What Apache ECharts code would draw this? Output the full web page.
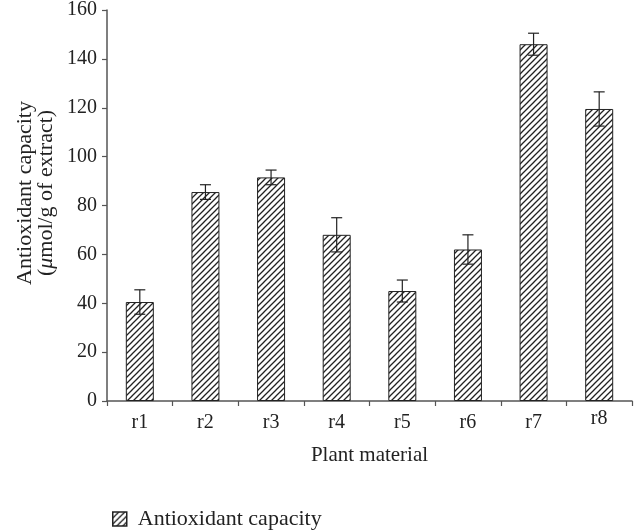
<!DOCTYPE html>
<html>
<head>
<meta charset="utf-8">
<script src="https://cdn.jsdelivr.net/npm/echarts@6/dist/echarts.min.js"></script>
<style>
  html, body { margin: 0; padding: 0; background: #fff; }
  #chart { width: 638px; height: 531px; }
</style>
</head>
<body>
<div id="chart"></div>
<script>
// Antioxidant capacity of plant materials (mean ± error)
const categories = ['r1', 'r2', 'r3', 'r4', 'r5', 'r6', 'r7', 'r8'];
const capacity = [40.5, 85.5, 91.5, 68, 45, 62, 146, 119.5];
const capacityErr = [5, 3, 3, 7, 4.5, 6, 4.5, 7];
const yTicks = [0, 20, 40, 60, 80, 100, 120, 140, 160];

const FONT = '"Liberation Serif", "DejaVu Serif", serif';

// Diagonal hatch tile used to fill the bars
function makeHatch(size) {
  const c = document.createElement('canvas');
  c.width = size; c.height = size;
  const g = c.getContext('2d');
  g.fillStyle = '#fff';
  g.fillRect(0, 0, size, size);
  g.strokeStyle = '#222';
  g.lineWidth = 1.3;
  g.beginPath();
  g.moveTo(-1, size + 1); g.lineTo(size + 1, -1);
  g.moveTo(-1, 1); g.lineTo(1, -1);
  g.moveTo(size - 1, size + 1); g.lineTo(size + 1, size - 1);
  g.stroke();
  return c;
}
const hatch = { image: makeHatch(6), repeat: 'repeat' };

const chart = echarts.init(document.getElementById('chart'), null, { renderer: 'canvas' });

const errData = categories.map((c, i) => [i, capacity[i] - capacityErr[i], capacity[i] + capacityErr[i]]);

// the last category label sits slightly higher
const categoryItems = categories.map((c, i) =>
  i === categories.length - 1 ? { value: c, textStyle: { lineHeight: 12 } } : c
);

chart.setOption({
  animation: false,
  backgroundColor: '#fff',
  textStyle: { fontFamily: FONT },
  grid: { left: 107, right: 6, top: 10, bottom: 130, containLabel: false },
  legend: {
    left: 107, top: 503,
    itemWidth: 14, itemHeight: 14, itemGap: 10,
    icon: 'rect',
    textStyle: { fontFamily: FONT, fontSize: 22, color: '#222', padding: [0, 0, 0, 6] },
    data: [{ name: 'Antioxidant capacity', itemStyle: { color: hatch, borderColor: '#222', borderWidth: 1.5 } }]
  },
  xAxis: {
    type: 'category',
    data: categoryItems,
    name: 'Plant material',
    nameLocation: 'middle',
    nameGap: 44,
    nameTextStyle: { fontFamily: FONT, fontSize: 21, color: '#222' },
    axisLine: { lineStyle: { color: '#555', width: 1.5 } },
    axisTick: { show: true, length: 5, inside: false, lineStyle: { color: '#555', width: 1.2 } },
    axisLabel: { fontFamily: FONT, fontSize: 20, color: '#222', margin: 12 }
  },
  yAxis: {
    type: 'value',
    min: yTicks[0],
    max: yTicks[yTicks.length - 1],
    interval: 20,
    splitLine: { show: false },
    axisLine: { show: true, lineStyle: { color: '#555', width: 1.5 } },
    axisTick: { show: true, length: 5, lineStyle: { color: '#555', width: 1.2 } },
    axisLabel: { fontFamily: FONT, fontSize: 20, color: '#222', margin: 10 }
  },
  graphic: [
    {
      type: 'text', x: 25, y: 193, rotation: Math.PI / 2,
      style: { text: 'Antioxidant capacity', font: '22px ' + FONT, fill: '#222', align: 'center', verticalAlign: 'middle' }
    },
    {
      type: 'text', x: 46, y: 193, rotation: Math.PI / 2,
      style: {
        text: '({it|μ}mol/g of extract)',
        font: '22px ' + FONT, fill: '#222', align: 'center', verticalAlign: 'middle',
        rich: { it: { fontStyle: 'italic', fontFamily: FONT, fontSize: 22, fill: '#222' } }
      }
    }
  ],
  series: [
    {
      name: 'Antioxidant capacity',
      type: 'bar',
      data: capacity,
      barWidth: 28,
      itemStyle: { color: hatch, borderColor: '#222', borderWidth: 1 },
      z: 2
    },
    {
      name: 'error',
      type: 'custom',
      data: errData,
      z: 5,
      renderItem: function (params, api) {
        const x = api.value(0);
        const lo = api.coord([x, api.value(1)]);
        const hi = api.coord([x, api.value(2)]);
        const cap = 5.5;
        const st = { stroke: '#222', lineWidth: 1.2 };
        return {
          type: 'group',
          children: [
            { type: 'line', shape: { x1: hi[0], y1: hi[1], x2: lo[0], y2: lo[1] }, style: st },
            { type: 'line', shape: { x1: hi[0] - cap, y1: hi[1], x2: hi[0] + cap, y2: hi[1] }, style: st },
            { type: 'line', shape: { x1: lo[0] - cap, y1: lo[1], x2: lo[0] + cap, y2: lo[1] }, style: st }
          ]
        };
      }
    }
  ]
});
</script>
</body>
</html>
